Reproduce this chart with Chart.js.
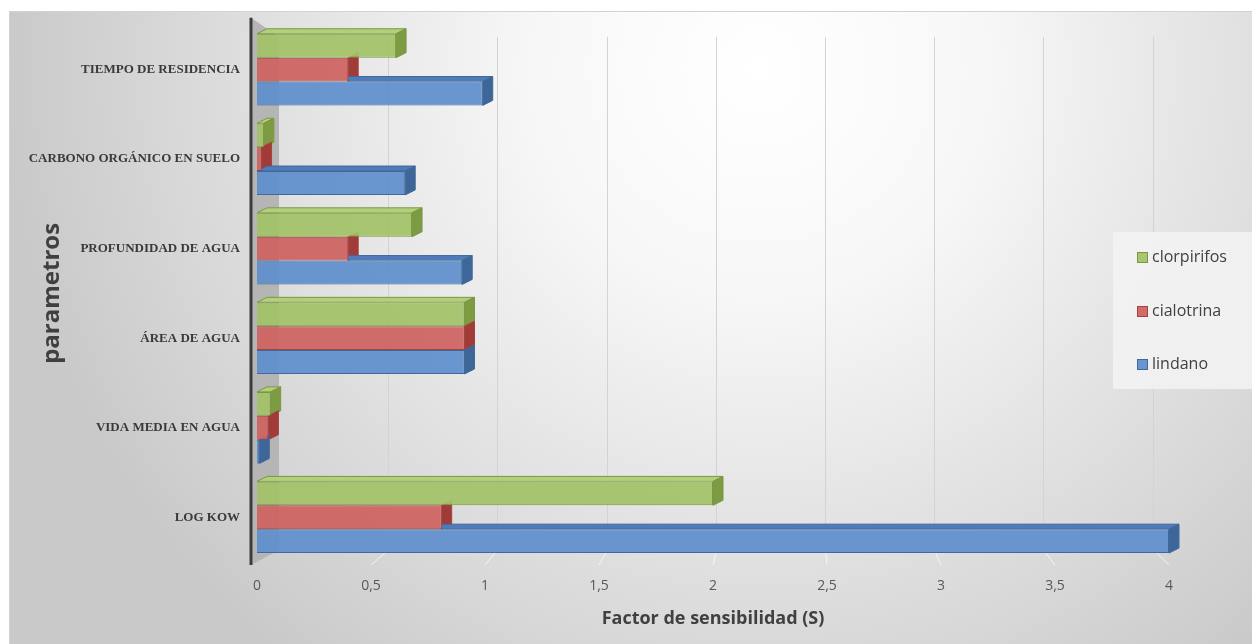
<!DOCTYPE html>
<html>
<head>
<meta charset="utf-8">
<title>Factor de sensibilidad</title>
<script src="https://cdn.jsdelivr.net/npm/chart.js@4.4.1/dist/chart.umd.min.js"></script>
<style>
  html, body { margin: 0; padding: 0; background: #fff; overflow: hidden; }
  #wrap { width: 1252px; height: 644px; }
</style>
</head>
<body>
<div id="wrap"><canvas id="chart" width="1252" height="644"></canvas></div>
<script>
// data
const categories = ['TIEMPO DE RESIDENCIA', 'CARBONO ORGÁNICO EN SUELO', 'PROFUNDIDAD DE AGUA', 'ÁREA DE AGUA', 'VIDA MEDIA EN AGUA', 'LOG KOW'];
const seriesNames = ['clorpirifos', 'cialotrina', 'lindano'];
const clorpirifos = [0.61, 0.03, 0.68, 0.91, 0.06, 2.0];
const cialotrina = [0.40, 0.02, 0.40, 0.91, 0.05, 0.81];
const lindano = [0.99, 0.65, 0.90, 0.91, 0.01, 4.0];
const xTickLabels = ['0', '0,5', '1', '1,5', '2', '2,5', '3', '3,5', '4'];

// colours: front, top face, side face, edge
const palette = [
  { face: 'rgba(162,194,104,0.93)', top: '#b3cf7c', side: '#7c9b43', edge: '#7a9840' },
  { face: 'rgba(205,99,96,0.93)', top: '#c55a57', side: '#a13b38', edge: '#a8403d' },
  { face: 'rgba(96,143,204,0.93)', top: '#4f7cb8', side: '#3e6698', edge: '#3f689c' }
];

const DX = 10, DY = 5;

function barBox(el) {
  const p = el.getProps(['x', 'y', 'base', 'height'], true);
  return {
    l: Math.min(p.base, p.x), r: Math.max(p.base, p.x),
    t: p.y - p.height / 2, b: p.y + p.height / 2
  };
}

const scene = {
  id: 'scene',
  beforeDraw(chart) {
    const ctx = chart.ctx;
    ctx.save();
    ctx.fillStyle = '#fff';
    ctx.fillRect(0, 0, chart.width, chart.height);
    const g = ctx.createRadialGradient(760, 70, 0, 760, 70, 760);
    g.addColorStop(0, '#ffffff');
    g.addColorStop(0.3, '#f7f7f7');
    g.addColorStop(1, '#c9c9c9');
    ctx.fillStyle = g;
    ctx.fillRect(9, 11, chart.width - 9, chart.height - 11);
    ctx.strokeStyle = '#d2d2d2';
    ctx.lineWidth = 1;
    ctx.strokeRect(9.5, 11.5, chart.width, chart.height);
    ctx.restore();
  },
  beforeDatasetsDraw(chart) {
    const ctx = chart.ctx;
    const a = chart.chartArea;
    const xs = chart.scales.x;
    const backL = a.left + 22, backT = a.top + 12, backB = a.bottom - 12, floor = a.bottom + 3;
    ctx.save();
    // side wall
    ctx.fillStyle = '#b5b5b5';
    ctx.beginPath();
    ctx.moveTo(a.left - 6, a.top - 7);
    ctx.lineTo(backL, backT);
    ctx.lineTo(backL, backB);
    ctx.lineTo(a.left - 6, floor);
    ctx.closePath();
    ctx.fill();
    // grid on the back plane + floor lines
    xs.ticks.forEach(t => {
      if (t.value === 0) return;
      const px = xs.getPixelForValue(t.value);
      const bx = Math.round(backL + (px - a.left) * 0.958) + 0.5;
      ctx.strokeStyle = '#d3d3d3';
      ctx.lineWidth = 1;
      ctx.beginPath();
      ctx.moveTo(bx, backT);
      ctx.lineTo(bx, backB);
      ctx.stroke();
      ctx.strokeStyle = 'rgba(250,250,250,0.8)';
      ctx.beginPath();
      ctx.moveTo(bx, backB);
      ctx.lineTo(px, floor);
      ctx.stroke();
    });
    // depth faces of the bars
    chart.data.datasets.forEach((ds, i) => {
      const meta = chart.getDatasetMeta(i);
      const c = palette[i];
      meta.data.forEach((el, j) => {
        const { l, r, t, b } = barBox(el);
        // the bar above hides the part of the top face it overlaps
        let from = l;
        if (i > 0) from = Math.max(l, barBox(chart.getDatasetMeta(i - 1).data[j]).r);
        ctx.lineWidth = 1;
        ctx.strokeStyle = c.edge;
        if (from < r) {
          ctx.save();
          ctx.beginPath();
          ctx.rect(from, t - DY - 2, r + DX + 2 - from, DY + 2);
          ctx.clip();
          ctx.fillStyle = c.top;
          ctx.beginPath();
          ctx.moveTo(l, t);
          ctx.lineTo(l + DX, t - DY);
          ctx.lineTo(r + DX, t - DY);
          ctx.lineTo(r, t);
          ctx.closePath();
          ctx.fill();
          ctx.stroke();
          ctx.restore();
        }
        ctx.fillStyle = c.side;
        ctx.beginPath();
        ctx.moveTo(r, t);
        ctx.lineTo(r + DX, t - DY);
        ctx.lineTo(r + DX, b - DY);
        ctx.lineTo(r, b);
        ctx.closePath();
        ctx.fill();
        ctx.stroke();
      });
    });
    // front edge of the wall
    ctx.strokeStyle = '#3c3c3c';
    ctx.lineWidth = 3;
    ctx.beginPath();
    ctx.moveTo(a.left - 6, a.top - 7);
    ctx.lineTo(a.left - 6, floor);
    ctx.stroke();
    ctx.restore();
  },
  afterDraw(chart) {
    const ctx = chart.ctx;
    ctx.save();
    ctx.fillStyle = 'rgba(243,243,243,0.85)';
    ctx.fillRect(1113, 232, 140, 157);
    const rows = [257, 311, 364];
    ctx.font = "16px 'Open Sans', sans-serif";
    ctx.textBaseline = 'middle';
    ctx.textAlign = 'left';
    chart.data.datasets.forEach((ds, i) => {
      const y = rows[i];
      ctx.fillStyle = palette[i].face;
      ctx.fillRect(1137, y - 5, 11, 11);
      ctx.strokeStyle = palette[i].edge;
      ctx.lineWidth = 1;
      ctx.strokeRect(1137.5, y - 4.5, 10, 10);
      ctx.fillStyle = '#404040';
      ctx.fillText(ds.label, 1152, y);
    });
    ctx.restore();
  }
};

Chart.defaults.font.family = "'Open Sans', sans-serif";

new Chart(document.getElementById('chart'), {
  type: 'bar',
  data: {
    labels: categories,
    datasets: [clorpirifos, cialotrina, lindano].map((vals, i) => ({
      label: seriesNames[i],
      data: vals,
      backgroundColor: palette[i].face,
      borderColor: palette[i].edge,
      borderWidth: 1,
      barPercentage: 1,
      categoryPercentage: 0.8
    }))
  },
  options: {
    indexAxis: 'y',
    responsive: false,
    animation: false,
    devicePixelRatio: 1,
    layout: { padding: { top: 24, right: 83, bottom: 0, left: 0 } },
    plugins: {
      legend: { display: false },
      tooltip: { enabled: false }
    },
    scales: {
      x: {
        type: 'linear',
        min: 0,
        max: 4,
        grid: { display: false, drawTicks: false },
        border: { display: false },
        ticks: {
          stepSize: 0.5,
          padding: 16,
          color: '#595959',
          font: { size: 14 },
          callback: (v, i) => xTickLabels[i]
        },
        title: {
          display: true,
          text: 'Factor de sensibilidad (S)',
          color: '#404040',
          font: { size: 18, weight: 'bold' },
          padding: { top: 0, bottom: 14 }
        },
        afterFit: s => { s.height = 82; }
      },
      y: {
        grid: { display: false, drawTicks: false },
        border: { display: false },
        ticks: {
          padding: 17,
          color: '#3a3a3a',
          font: { family: "'Liberation Serif', serif", size: 13, weight: 'bold' }
        },
        title: {
          display: true,
          text: 'parametros',
          color: '#404040',
          font: { size: 24, weight: 'bold' },
          padding: { top: 38, bottom: 0 }
        },
        afterFit: s => { s.width = 257; }
      }
    }
  },
  plugins: [scene]
});
</script>
</body>
</html>
